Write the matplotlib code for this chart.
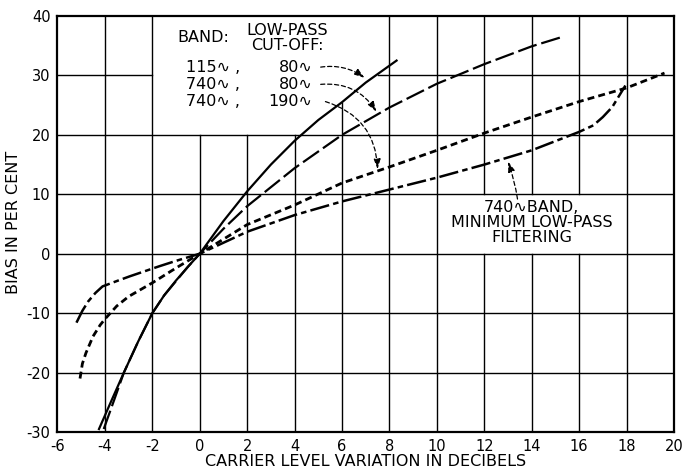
import numpy as np
import matplotlib
matplotlib.use("Agg")
import matplotlib.pyplot as plt

plt.rcParams['axes.unicode_minus'] = False
plt.rcParams['lines.scale_dashes'] = False
plt.rcParams['font.family'] = ['DejaVu Sans']

# curves: x = carrier level (dB), y = bias (%)
# 115~ band, 80~ low-pass
solid_x = [-4.25, -3.7, -3.2, -2.6, -2, -1.5, -1, -0.5, 0, 1, 2, 3, 4, 5, 6, 7, 8.3]
solid_y = [-29.5, -24.5, -20, -14.8, -10, -7, -4.5, -2.2, 0, 5.5, 10.5, 15, 19, 22.5, 25.5, 28.8, 32.5]
# 740~ band, 80~ low-pass
long_x = [-4.05, -3.6, -3.2, -2.6, -2, -1.5, -1, -0.5, 0, 1, 2, 4, 6, 8, 10, 12, 14, 15.3]
long_y = [-29.5, -24.5, -20, -14.8, -10, -7, -4.6, -2.2, 0, 4.2, 8, 14.4, 20, 24.6, 28.6, 31.9, 34.9, 36.5]
# 740~ band, 190~ low-pass
short_x = [-5.05, -4.95, -4.8, -4.5, -4.2, -4, -3.5, -3, -2, -1, 0, 2, 4, 6, 8, 10, 12, 14, 16, 18, 19.6]
short_y = [-21, -18.5, -16.7, -13.9, -12, -11, -8.8, -7.2, -4.9, -2.4, 0, 4.9, 8.2, 11.9, 14.6, 17.4, 20.3, 23, 25.6, 27.9, 30.4]
# 740~ band, minimum low-pass filtering
dd_x = [-5.2, -4.95, -4.7, -4.4, -4.1, -3.5, -2.95, -1.7, -1, 0, 2, 4, 6, 8, 10, 12, 14, 16, 16.6, 17, 17.4, 17.95]
dd_y = [-11.6, -9.6, -8, -6.6, -5.5, -4.6, -3.8, -2.1, -1.2, 0, 3.7, 6.5, 8.8, 10.8, 12.8, 15, 17.4, 20.5, 21.6, 23, 24.7, 28.3]

band_labels = ["115\u223f", "740\u223f", "740\u223f"]
cutoff_labels = ["80\u223f", "80\u223f", "190\u223f"]
label_rows_y = [31.4, 28.5, 25.6]

xticks = np.arange(-6, 21, 2)
yticks = np.arange(-30, 41, 10)

fig = plt.figure(figsize=(6.86, 4.68), dpi=100)
ax = fig.add_axes([0.0838, 0.0769, 0.8987, 0.8889])
ax.set_xlim(-6, 20)
ax.set_ylim(-30, 40)

# grid, broken where the two text boxes sit
gkw = dict(color='black', lw=1.0, zorder=1)
for x in [-4, -2, 8, 10, 18]:
    ax.plot([x, x], [-30, 40], **gkw)
for x in [0, 2, 4]:
    ax.plot([x, x], [-30, 20], **gkw)
ax.plot([6, 6], [-30, 25.3], **gkw)
for x in [12, 14, 16]:
    ax.plot([x, x], [-30, 0], **gkw)
    ax.plot([x, x], [10, 40], **gkw)
for y in [-20, -10, 0, 10, 20]:
    ax.plot([-6, 20], [y, y], **gkw)
ax.plot([-6, -2], [30, 30], **gkw)
ax.plot([7.5, 20], [30, 30], **gkw)

lw = 1.6
ax.plot(solid_x, solid_y, color='black', lw=lw, zorder=3)
ax.plot(long_x, long_y, color='black', lw=lw, dashes=(14, 3.5), zorder=3)
ax.plot(short_x, short_y, color='black', lw=lw + 0.4, dashes=(5, 3), zorder=3)
ax.plot(dd_x, dd_y, color='black', lw=lw + 0.2, dashes=(14, 3, 4, 3), zorder=3)

# legend-ish text block
tkw = dict(fontsize=11.5, color='black', zorder=4)
ax.text(0.15, 36.3, "BAND:", ha='center', va='center', **tkw)
ax.text(3.7, 36.3, "LOW-PASS\nCUT-OFF:", ha='center', va='center', linespacing=0.95, **tkw)
for b, c, y in zip(band_labels, cutoff_labels, label_rows_y):
    ax.text(1.7, y, b + " ,", ha='right', va='center', **tkw)
    ax.text(4.75, y, c, ha='right', va='center', **tkw)

ax.text(14.0, 5.2, "740\u223fBAND,\nMINIMUM LOW-PASS\nFILTERING", ha='center', va='center',
        linespacing=1.0, **tkw)

# dashed pointer arrows
akw = dict(arrowstyle='-|>,head_length=0.6,head_width=0.2', color='black', lw=0.9,
           linestyle=(0, (3, 2)), shrinkA=0, shrinkB=0)
arrows = [((5.1, 31.4), (6.95, 29.6), -0.2),
          ((5.1, 28.5), (7.45, 23.9), -0.3),
          ((5.3, 25.6), (7.5, 14.2), -0.35),
          ((13.4, 9.2), (13.0, 15.5), 0.05)]
for (x0, y0), (x1, y1), rad in arrows:
    ax.annotate("", xy=(x1, y1), xytext=(x0, y0),
                arrowprops=dict(connectionstyle=f"arc3,rad={rad}", **akw), zorder=4)

ax.set_xticks(xticks)
ax.set_yticks(yticks)
ax.tick_params(length=0, labelsize=10.5, pad=5)
ax.tick_params(axis='y', pad=5)
for s in ax.spines.values():
    s.set_linewidth(1.6)

fig.text(366 / 686, 1 - 461 / 468, "CARRIER LEVEL VARIATION IN DECIBELS",
         ha='center', va='center', fontsize=11.5)
fig.text(14 / 686, 1 - 222 / 468, "BIAS IN PER CENT", rotation=90,
         ha='center', va='center', fontsize=11.5)

fig.savefig("out.png", dpi=100)
